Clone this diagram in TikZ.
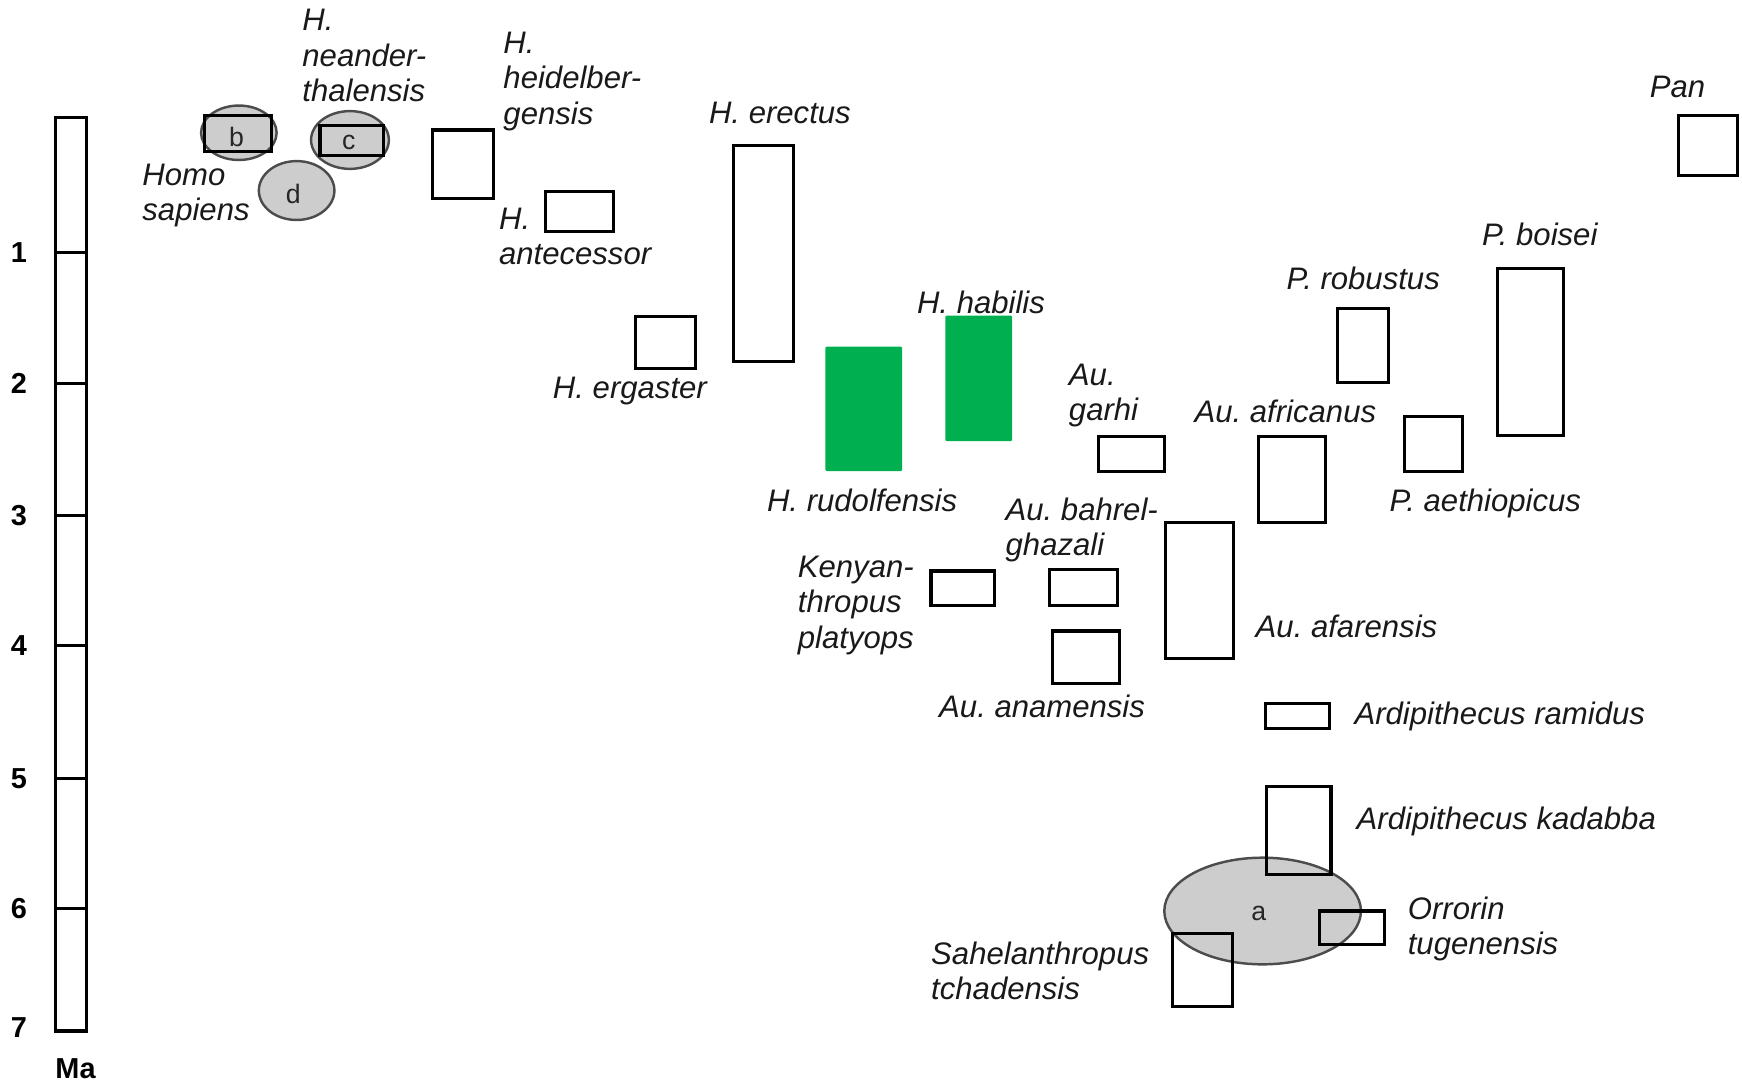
\documentclass[tikz,border=0pt]{standalone}
\usepackage{fontspec}
\setmainfont{Liberation Sans}
\usetikzlibrary{shapes.geometric}
\frenchspacing
\definecolor{hgreen}{RGB}{0,176,80}
\definecolor{stip}{RGB}{205,205,205}
\tikzset{
  box/.style={draw=black, line width=2.8pt, inner sep=0pt},
  gbox/.style={fill=hgreen, inner sep=0pt, rounded corners=1pt},
  lab/.style={font=\itshape\fontsize{28}{32}\selectfont, inner sep=0pt, text=black!90},
  num/.style={font=\bfseries\fontsize{26}{30}\selectfont, inner sep=0pt},
  let/.style={font=\fontsize{24}{26}\selectfont, inner sep=0pt, text=black!85},
  ell/.style={ellipse, draw=black!70, fill=stip, line width=2.2pt, inner sep=0pt},
  tick/.style={line width=2.4pt}
}
\begin{document}
\begin{tikzpicture}[x=1pt,y=-1pt]
\useasboundingbox (0,0) rectangle (1568,975);
% scale bar
\node[box, line width=3pt, minimum width=28pt, minimum height=822pt] (bar) at (64,517) {};
\foreach \yy/\n in {227/1,345/2,464/3,581/4,701/5,818/6}{
  \coordinate (tl\n) at (50,\yy);
  \coordinate (tr\n) at (78,\yy);
  \draw[tick] (tl\n) -- (tr\n);
  \node[num] (d\n) at (17,\yy) {\n};
}
\node[num] (d7) at (17,925) {7};
\node[num] (ma) at (68,962) {Ma};

% Homo sapiens group
\node[ell, minimum width=68pt, minimum height=49pt] (eb) at (215,119.5) {};
\node[ell, minimum width=70pt, minimum height=52pt] (ec) at (315,126) {};
\node[ell, minimum width=68pt, minimum height=53pt] (ed) at (267,171.5) {};
\node[box, minimum width=60pt, minimum height=32pt] (rb) at (214,120) {};
\node[box, minimum width=57pt, minimum height=27pt] (rc) at (316.5,126.5) {};
\node[let] (lb) at (213,123) {b};
\node[let] (lc) at (314,128) {c};
\node[let] (ld) at (264,175) {d};

% ellipse a
\node[ell, minimum width=177pt, minimum height=96pt] (ea) at (1136.5,820) {};
\node[let] (la) at (1133,822) {a};

% boxes
\node[box, minimum width=55pt, minimum height=62pt] (heid) at (416.5,148) {};
\node[box, minimum width=61pt, minimum height=36pt] (ante) at (521.5,190) {};
\node[box, minimum width=54pt, minimum height=194pt] (erec) at (687,228) {};
\node[box, minimum width=54pt, minimum height=47pt] (erga) at (599,308.5) {};
\node[gbox, minimum width=69pt, minimum height=112pt] (rudo) at (777.5,368) {};
\node[gbox, minimum width=60pt, minimum height=113pt] (habi) at (881,340.5) {};
\node[box, minimum width=59pt, minimum height=31pt] (garh) at (1018.5,408.5) {};
\node[box, minimum width=60pt, minimum height=77pt] (afri) at (1163,431.5) {};
\node[box, minimum width=46pt, minimum height=66pt] (robu) at (1227,311) {};
\node[box, minimum width=52pt, minimum height=49pt] (aeth) at (1290,399.5) {};
\node[box, minimum width=59pt, minimum height=150pt] (bois) at (1377.5,317) {};
\node[box, minimum width=53pt, minimum height=54pt] (pan) at (1537.5,131) {};
\node[box, minimum width=61pt, minimum height=123pt] (afar) at (1079.5,531.5) {};
\node[box, minimum width=61pt, minimum height=32pt] (bahr) at (975.5,529) {};
\node[box, minimum width=57pt, minimum height=31pt] (keny) at (866.5,529.5) {};
\node[box, minimum width=61pt, minimum height=47pt] (anam) at (977.5,591.5) {};
\node[box, minimum width=58pt, minimum height=23pt] (rami) at (1168,644.5) {};
\node[box, minimum width=58pt, minimum height=79pt] (kada) at (1169,747.5) {};
\node[box, minimum width=58pt, minimum height=30pt] (orro) at (1217,835) {};
\node[box, minimum width=54pt, minimum height=66pt] (sahe) at (1082,873) {};

% labels
\node[lab, anchor=west, align=left] (tsap) at (128,176) {Homo\\sapiens};
\node[lab, anchor=west, align=left] (tnea) at (272,50) {H.\\neander-\\thalensis};
\node[lab, anchor=west, align=left] (thei) at (453,73) {H.\\heidelber-\\gensis};
\node[lab, anchor=west, align=left] (tant) at (449,213) {H.\\antecessor};
\node[lab] (tere) at (702,102) {H. erectus};
\node[lab] (terg) at (567,352) {H. ergaster};
\node[lab] (trud) at (776,450) {H. rudolfensis};
\node[lab] (thab) at (883,272) {H. habilis};
\node[lab, anchor=west, align=left] (tgar) at (962,356) {Au.\\garhi};
\node[lab] (tafr) at (1157,370) {Au. africanus};
\node[lab] (trob) at (1227,251) {P. robustus};
\node[lab] (taet) at (1337,453) {P. aethiopicus};
\node[lab] (tboi) at (1386,211) {P. boisei};
\node[lab] (tpan) at (1510,78) {Pan};
\node[lab] (tafa) at (1212,564) {Au. afarensis};
\node[lab, anchor=west, align=left] (tbah) at (905,477) {Au. bahrel-\\ghazali};
\node[lab, anchor=west, align=left] (tken) at (718,545) {Kenyan-\\thropus\\platyops};
\node[lab] (tana) at (938,636) {Au. anamensis};
\node[lab, anchor=west] (tram) at (1219,645) {Ardipithecus ramidus};
\node[lab, anchor=west] (tkad) at (1221,739) {Ardipithecus kadabba};
\node[lab, anchor=west, align=left] (torr) at (1267,836) {Orrorin\\tugenensis};
\node[lab, anchor=west, align=left] (tsah) at (838,874) {Sahelanthropus\\tchadensis};
\end{tikzpicture}
\end{document}
